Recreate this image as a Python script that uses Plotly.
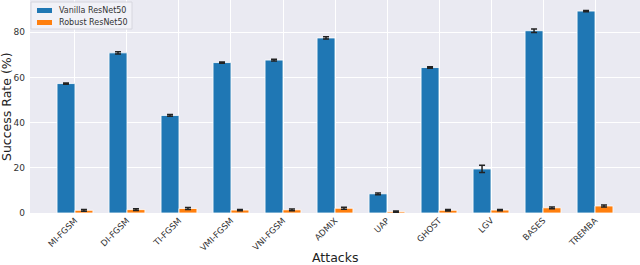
import plotly.graph_objects as go

attacks = ["MI-FGSM", "DI-FGSM", "TI-FGSM", "VMI-FGSM", "VNI-FGSM", "ADMIX", "UAP", "GHOST", "LGV", "BASES", "TREMBA"]
vanilla = [57.3, 70.9, 43.2, 66.6, 67.7, 77.5, 8.5, 64.4, 19.5, 80.7, 89.4]
vanilla_err = [0.3, 0.5, 0.4, 0.3, 0.4, 0.5, 0.4, 0.3, 1.6, 0.8, 0.3]
robust = [1.2, 1.5, 2.0, 1.3, 1.4, 2.1, 0.6, 1.2, 1.3, 2.3, 3.1]
robust_err = [0.4, 0.4, 0.4, 0.3, 0.4, 0.4, 0.3, 0.3, 0.3, 0.4, 0.4]
series_names = ["Vanilla ResNet50", "Robust ResNet50"]
series_colors = ["#1f77b4", "#ff7f0e"]

fig = go.Figure()
for name, vals, errs, col in zip(series_names, [vanilla, robust], [vanilla_err, robust_err], series_colors):
    fig.add_trace(go.Bar(
        x=attacks, y=vals, name=name,
        marker=dict(color=col, line=dict(color="white", width=0.8)),
        error_y=dict(type="data", array=errs, color="#222222", thickness=1.5, width=3),
    ))

W, H = 640, 265
L, B = 30, 52
plot_w = W - L
plot_h = H - B
Y0 = H - B  # pixel row of the x axis


def px(x):
    return (x - L) / plot_w


def py(y):
    return (Y0 - y) / plot_h


fig.update_layout(
    width=W, height=H,
    margin=dict(l=L, r=0, t=0, b=B, autoexpand=False),
    paper_bgcolor="white",
    plot_bgcolor="#eaeaf2",
    barmode="group", bargap=0.31, bargroupgap=0,
    font=dict(family="DejaVu Sans", color="#333333"),
    showlegend=False,
)

# manual legend (matplotlib-like)
fig.add_shape(type="rect", xref="paper", yref="paper",
              x0=px(31), x1=px(132), y0=py(29), y1=py(2),
              fillcolor="rgba(242,242,247,0.9)", line=dict(color="#d6d6de", width=1), layer="above")
for i, (name, col) in enumerate(zip(series_names, series_colors)):
    cy = 10.5 + i * 12
    fig.add_shape(type="rect", xref="paper", yref="paper",
                  x0=px(37), x1=px(52), y0=py(cy + 2.5), y1=py(cy - 2.5),
                  fillcolor=col, line=dict(width=0), layer="above")
    fig.add_annotation(text=name, x=px(57), y=py(cy), xref="paper", yref="paper",
                       xanchor="left", yanchor="middle", showarrow=False,
                       font=dict(size=8, color="#333333"))

fig.add_annotation(text="Success Rate (%)", x=px(7), y=py(107),
                   xref="paper", yref="paper", xanchor="center", yanchor="middle",
                   showarrow=False, textangle=-90,
                   font=dict(size=12.5, color="#222222"))
fig.add_annotation(text="Attacks", x=0.5, y=py(257), xref="paper", yref="paper",
                   xanchor="center", yanchor="middle",
                   showarrow=False, font=dict(size=12.5, color="#222222"))

fig.update_xaxes(
    range=[-0.865, 10.865],
    showgrid=True, gridcolor="white", gridwidth=1,
    tickangle=-45, tickfont=dict(size=8.5, color="#333333"),
    zeroline=False, ticks="", automargin=False,
)
fig.update_yaxes(
    range=[0, 94.3],
    tickvals=[0, 20, 40, 60, 80],
    showgrid=True, gridcolor="white", gridwidth=1,
    tickfont=dict(size=9, color="#333333"),
    ticklabelstandoff=4,
    zeroline=False, ticks="", automargin=False,
)

fig.write_html("out.html", config={"displayModeBar": False},
               post_script="document.body.style.margin='0';document.body.style.overflow='hidden';")
